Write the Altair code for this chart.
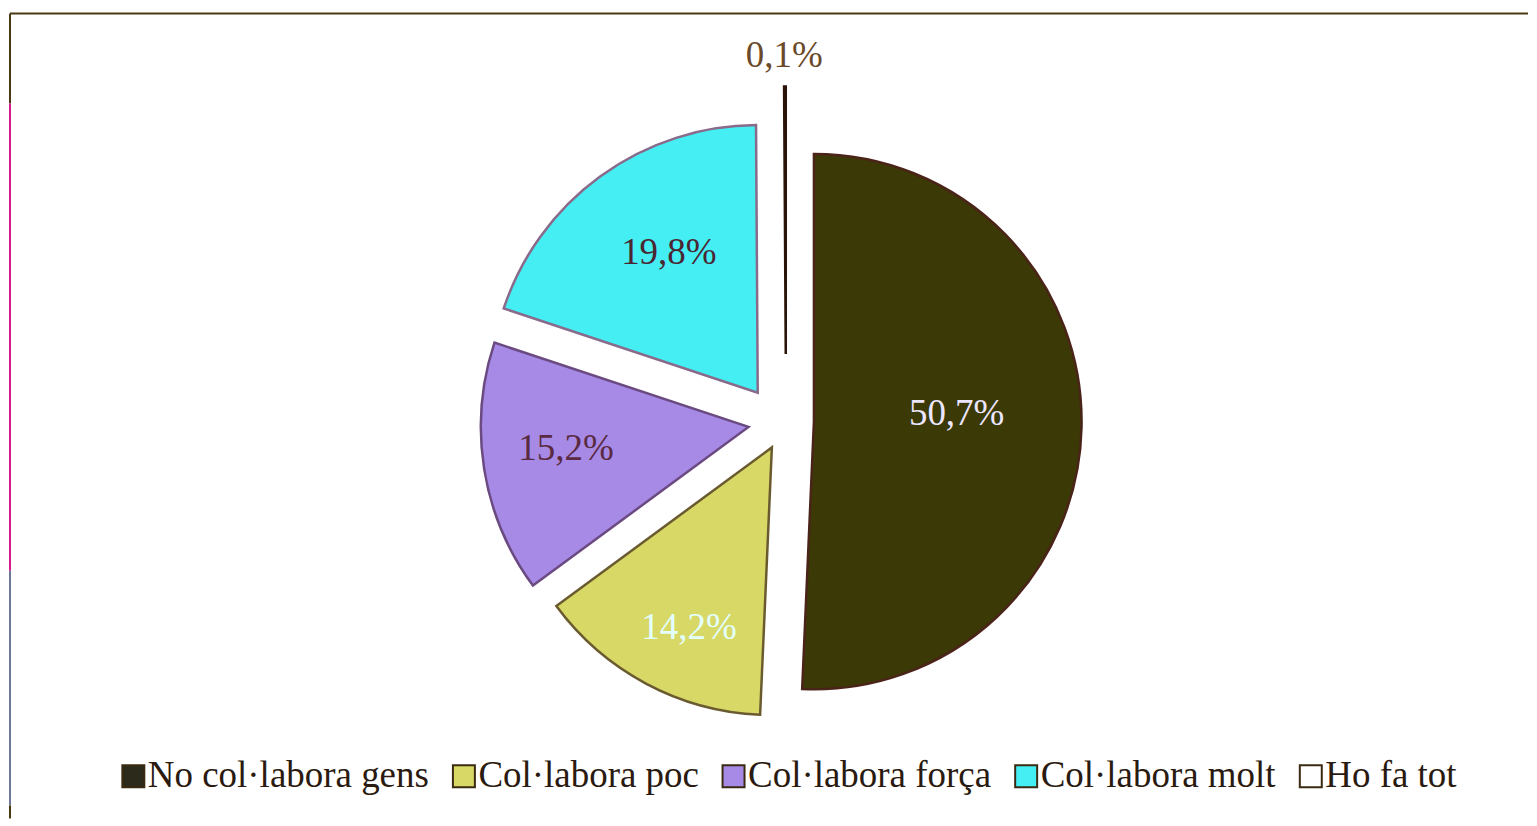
import altair as alt
import pandas as pd

# ---- data ----
CATEGORIES = ["No col·labora gens", "Col·labora poc", "Col·labora força", "Col·labora molt", "Ho fa tot"]
VALUES = [50.7, 14.2, 15.2, 19.8, 0.1]
LABELS = ["50,7%", "14,2%", "15,2%", "19,8%", "0,1%"]

# ---- styles ----
FILLS = ["#3b3906", "#d8d866", "#a68ae6", "#44eef2", "#4a2a12"]
LEGEND_FILLS = ["#2c2a1a", "#d8d866", "#a68ae6", "#44eef2", "#ffffff"]
STROKES = ["#4a2418", "#6a5a30", "#6a4a80", "#8a6a8a", "#2a1408"]
LABEL_COLORS = ["#ece6ff", "#e4ffff", "#5a2a42", "#4a2632", "#6a4a2a"]
EXPLODE = [28, 30, 38, 40, 67]              # slice explosion distance (px)
EXPLODE_DA = [0, 0, 0, -9, 0]               # explosion direction nudge (deg)
LABEL_R = [171, 229, 222, 205, 365]         # label distance from pie centre (px)
LABEL_DA = [-3.6, -3.0, 1.7, 1.1, -0.1]     # label angle nudge (deg)
RADIUS = 268
FONT = "Liberation Serif"

W, H = 1521, 810
CX, CY = 778, 412  # pie centre inside plot area
XDOM = [-CX, W - CX]
YDOM = [-(H - CY), CY]

df = pd.DataFrame({
    "cat": CATEGORIES,
    "value": VALUES,
    "label": LABELS,
    "idx": list(range(len(CATEGORIES))),
    "explode": EXPLODE,
    "eda": EXPLODE_DA,
    "lr": LABEL_R,
    "lda": LABEL_DA,
    "lc": LABEL_COLORS,
    "fc": FILLS,
    "sc": STROKES,
})

xs = alt.Scale(domain=XDOM, nice=False, zero=False)
ys = alt.Scale(domain=YDOM, nice=False, zero=False)

base = (
    alt.Chart(df)
    .transform_window(cum="sum(value)", sort=[alt.SortField("idx")], frame=[None, 0])
    .transform_joinaggregate(total="sum(value)")
    .transform_calculate(
        a0="(datum.cum - datum.value) / datum.total * 2 * PI",
        a1="datum.cum / datum.total * 2 * PI",
    )
    .transform_calculate(
        mid="(datum.a0 + datum.a1) / 2",
    )
    .transform_calculate(
        la="datum.mid + datum.lda * PI / 180",
        ea="datum.mid + datum.eda * PI / 180",
    )
    .transform_calculate(
        dx="datum.explode * sin(datum.ea)",
        dy="datum.explode * cos(datum.ea)",
        lx="datum.lr * sin(datum.la)",
        ly="datum.lr * cos(datum.la)",
    )
)

arcs = base.mark_arc(radius=RADIUS, strokeWidth=2.5).encode(
    x=alt.X("dx:Q", scale=xs, axis=None),
    y=alt.Y("dy:Q", scale=ys, axis=None),
    theta=alt.Theta("a0:Q", scale=None),
    theta2="a1:Q",
    fill=alt.Fill("fc:N", scale=None),
    stroke=alt.Stroke("sc:N", scale=None),
)

texts = base.mark_text(font=FONT, fontSize=37, align="center", baseline="middle").encode(
    x=alt.X("lx:Q", scale=xs, axis=None),
    y=alt.Y("ly:Q", scale=ys, axis=None),
    text="label:N",
    color=alt.Color("lc:N", scale=None),
)

legend_layer = alt.Chart(df).mark_square(opacity=0, size=1).encode(
    x=alt.value(0),
    y=alt.value(0),
    color=alt.Color(
        "cat:N",
        scale=alt.Scale(domain=CATEGORIES, range=LEGEND_FILLS),
        sort=CATEGORIES,
        legend=alt.Legend(
            title=None,
            orient="none",
            legendX=106,
            legendY=749,
            direction="horizontal",
            columns=5,
            columnPadding=16,
            symbolType="square",
            symbolSize=484,
            symbolStrokeColor="#3a2a12",
            symbolStrokeWidth=2,
            symbolOpacity=1,
            labelFont=FONT,
            labelFontSize=37,
            labelColor="#2a1a10",
            labelLimit=0,
            labelOffset=alt.ExprRef(expr="-4"),
            padding=0,
        ),
    ),
)

# ---- frame lines (decoration) ----
frame_df = pd.DataFrame({
    "x": [1, 1, 1, 1, 1],
    "x2": [W, 1, 1, 1, 1],
    "y": [4, 4, 94, 562, 797],
    "y2": [4, 94, 562, 797, H],
    "c": ["#4a3a14", "#4a3a14", "#d41c8c", "#6f7896", "#4a3a14"],
})
frame = alt.Chart(frame_df).mark_rule(strokeWidth=2).encode(
    x=alt.X("x:Q", scale=None),
    x2="x2:Q",
    y=alt.Y("y:Q", scale=None),
    y2="y2:Q",
    color=alt.Color("c:N", scale=None),
)

chart = (
    alt.layer(frame, arcs, texts, legend_layer)
    .resolve_scale(color="independent")
    .properties(width=W, height=H, padding=0, background="white")
    .configure_view(strokeWidth=0, stroke="transparent")
)

chart.save("out.html", embed_options={"renderer": "svg", "actions": False})
